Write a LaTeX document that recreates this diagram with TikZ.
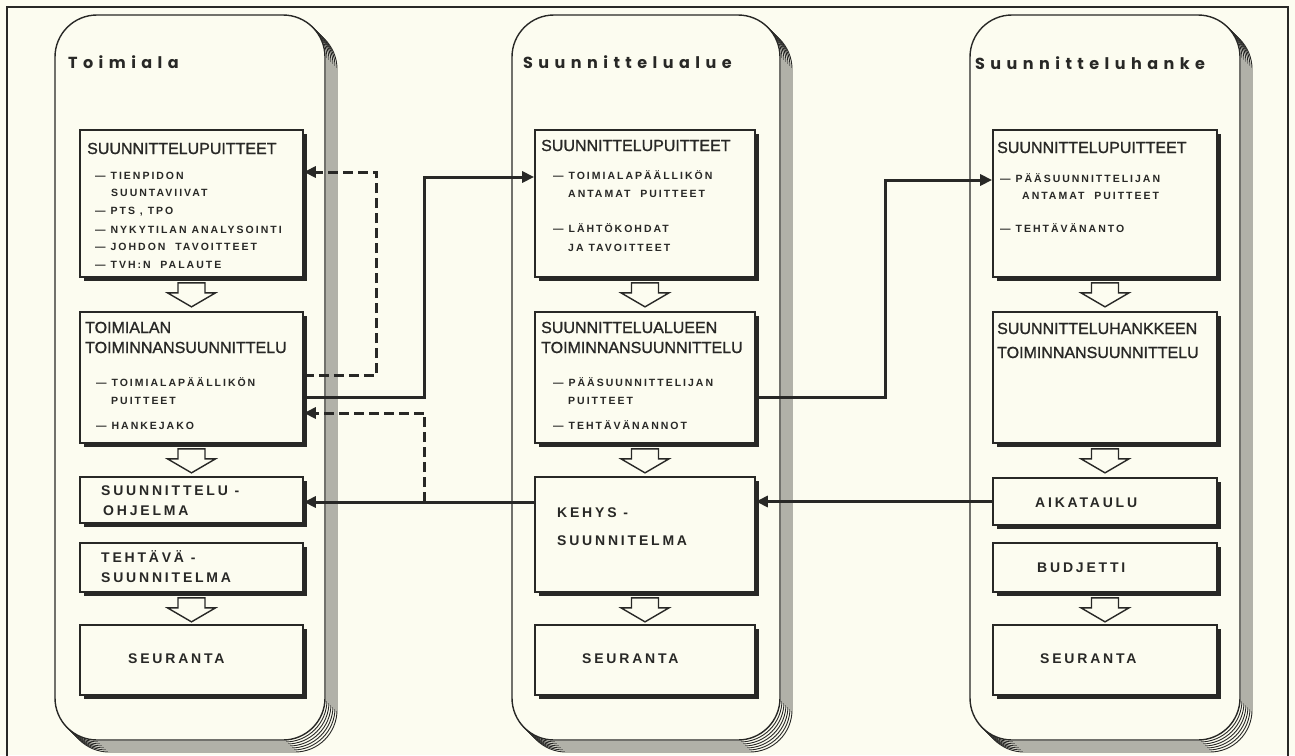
\documentclass[tikz,border=0pt]{standalone}
\usepackage{fontspec}
\setmainfont{Liberation Sans}
\newfontfamily\titlefont[LetterSpace=34]{Poppins Bold}
\newfontfamily\headfont[FakeBold=1.2]{Liberation Sans}
\newfontfamily\itemfont[LetterSpace=19]{Liberation Sans Bold}
\newfontfamily\bigfont[LetterSpace=20]{Liberation Sans Bold}
\usetikzlibrary{arrows.meta,shadows,fit}
\definecolor{bg}{RGB}{252,252,240}
\definecolor{ink}{RGB}{40,40,38}
\newcommand\harr[1]{\draw[harrow] ([shift={(-13.5,5)}]#1.south) -- ++(27,0) -- ++(0,10) -- ++(10.5,0) -- ++(-24,14) -- ++(-24,-14) -- ++(10.5,0) -- cycle;}
\begin{document}
\begin{tikzpicture}[x=1pt,y=-1pt,
 panel/.style={draw=ink, line width=1.4pt, fill=bg, rounded corners=42pt, inner sep=0pt,
   copy shadow={shadow xshift=12pt, shadow yshift=-12pt, draw=ink, fill=bg, line width=0.9pt},
   copy shadow={shadow xshift=10pt, shadow yshift=-10pt, draw=ink, fill=bg, line width=0.9pt},
   copy shadow={shadow xshift=8pt, shadow yshift=-8pt, draw=ink, fill=bg, line width=0.9pt},
   copy shadow={shadow xshift=6pt, shadow yshift=-6pt, draw=ink, fill=bg, line width=0.9pt},
   copy shadow={shadow xshift=4pt, shadow yshift=-4pt, draw=ink, fill=bg, line width=0.9pt},
   copy shadow={shadow xshift=2pt, shadow yshift=-2pt, draw=ink, fill=bg, line width=0.9pt}},
 box/.style={draw=ink, line width=1.7pt, fill=bg, inner sep=0pt,
   general shadow={shadow xshift=3.5pt, shadow yshift=-4pt, fill=ink}},
 head/.style={anchor=base west, inner sep=0pt, font=\headfont\fontsize{16}{18}\selectfont, text=ink},
 item/.style={anchor=base west, inner sep=0pt, font=\itemfont\fontsize{10.5}{12}\selectfont, text=ink},
 big/.style={anchor=base west, inner sep=0pt, font=\bigfont\fontsize{14}{16}\selectfont, text=ink},
 ptitle/.style={anchor=base west, inner sep=0pt, font=\titlefont\fontsize{16}{18}\selectfont, text=ink},
 conn/.style={draw=ink, line width=3pt, -{Triangle[length=12pt,width=11pt]}},
 dconn/.style={conn, dash pattern=on 10pt off 5pt},
 harrow/.style={draw=ink, line width=1.4pt, fill=bg, line join=miter}
]
\useasboundingbox[fill=bg] (0,0) rectangle (1295,755);
\draw[ink, line width=1.2pt] (7,762) -- (7,7) -- (1288,7) -- (1288,762);
% panels
\node[panel, fit={(55,15)(325,740)}] (p1) {};
\node[panel, fit={(512,15)(780,740)}] (p2) {};
\node[panel, fit={(970,15)(1240,740)}] (p3) {};
\node[ptitle] (pt1) at (68,68) {Toimiala};
\node[ptitle] (pt2) at (523,68) {Suunnittelualue};
\node[ptitle] (pt3) at (975,69) {Suunnitteluhanke};
% column 1 boxes
\node[box, fit={(80,130)(303,277)}] (a1) {};
\node[box, fit={(80,312)(303,443)}] (b1) {};
\node[box, fit={(80,477)(303,523)}] (c1) {};
\node[box, fit={(80,543)(303,592)}] (d1) {};
\node[box, fit={(80,625)(303,695)}] (e1) {};
% column 2 boxes
\node[box, fit={(535,130)(755,277)}] (a2) {};
\node[box, fit={(535,312)(755,443)}] (b2) {};
\node[box, fit={(535,477)(755,592)}] (c2) {};
\node[box, fit={(535,625)(755,695)}] (e2) {};
% column 3 boxes
\node[box, fit={(993,130)(1217,277)}] (a3) {};
\node[box, fit={(993,312)(1217,443)}] (b3) {};
\node[box, fit={(993,478)(1217,525)}] (c3) {};
\node[box, fit={(993,543)(1217,592)}] (d3) {};
\node[box, fit={(993,625)(1217,695)}] (e3) {};
% column 1 texts
\node[head] (a1h) at (87,154) {SUUNNITTELUPUITTEET};
\node[item] (a1i1) at (95,179) {— TIENPIDON};
\node[item] (a1i2) at (111,196) {SUUNTAVIIVAT};
\node[item] (a1i3) at (95,214) {— PTS , TPO};
\node[item] (a1i4) at (95,233) {— NYKYTILAN ANALYSOINTI};
\node[item] (a1i5) at (95,250) {— JOHDON\ \ TAVOITTEET};
\node[item] (a1i6) at (95,268) {— TVH:N\ \ PALAUTE};
\node[head] (b1h1) at (85,333) {TOIMIALAN};
\node[head] (b1h2) at (85,353) {TOIMINNANSUUNNITTELU};
\node[item] (b1i1) at (96,386) {— TOIMIALAPÄÄLLIKÖN};
\node[item] (b1i2) at (111,404) {PUITTEET};
\node[item] (b1i3) at (96,429) {— HANKEJAKO};
\node[big] (c1t1) at (101,495) {SUUNNITTELU -};
\node[big] (c1t2) at (103,515) {OHJELMA};
\node[big] (d1t1) at (101,562) {TEHTÄVÄ -};
\node[big] (d1t2) at (101,582) {SUUNNITELMA};
\node[big] (e1t) at (128,663) {SEURANTA};
% column 2 texts
\node[head] (a2h) at (541,151) {SUUNNITTELUPUITTEET};
\node[item] (a2i1) at (553,179) {— TOIMIALAPÄÄLLIKÖN};
\node[item] (a2i2) at (568,197) {ANTAMAT\ \ PUITTEET};
\node[item] (a2i3) at (553,232) {— LÄHTÖKOHDAT};
\node[item] (a2i4) at (568,251) {JA\ TAVOITTEET};
\node[head] (b2h1) at (541,333) {SUUNNITTELUALUEEN};
\node[head] (b2h2) at (541,353) {TOIMINNANSUUNNITTELU};
\node[item] (b2i1) at (553,386) {— PÄÄSUUNNITTELIJAN};
\node[item] (b2i2) at (568,404) {PUITTEET};
\node[item] (b2i3) at (553,429) {— TEHTÄVÄNANNOT};
\node[big] (c2t1) at (557,517) {KEHYS -};
\node[big] (c2t2) at (557,545) {SUUNNITELMA};
\node[big] (e2t) at (582,663) {SEURANTA};
% column 3 texts
\node[head] (a3h) at (997,153) {SUUNNITTELUPUITTEET};
\node[item] (a3i1) at (1000,182) {— PÄÄSUUNNITTELIJAN};
\node[item] (a3i2) at (1022,199) {ANTAMAT\ \ PUITTEET};
\node[item] (a3i3) at (1000,232) {— TEHTÄVÄNANTO};
\node[head] (b3h1) at (997,334) {SUUNNITTELUHANKKEEN};
\node[head] (b3h2) at (997,358) {TOIMINNANSUUNNITTELU};
\node[big] (c3t) at (1035,507) {AIKATAULU};
\node[big] (d3t) at (1037,572) {BUDJETTI};
\node[big] (e3t) at (1040,663) {SEURANTA};
% hollow arrows
\harr{a1} \harr{b1} \harr{d1}
\harr{a2} \harr{b2} \harr{c2}
\harr{a3} \harr{b3} \harr{d3}
% connectors
\draw[dconn] ([yshift=2.5pt]b1.east) -- ++(73,0) |- ([yshift=31.5pt]a1.east);
\draw[conn] ([yshift=-19.5pt]b1.east) -- ++(121,0) coordinate (bend) |- ([yshift=26.5pt]a2.west);
\draw[conn] ([yshift=32.5pt]c2.west) coordinate (kl) -- (kl -| c1.east);
\draw[dconn] (kl -| bend) |- ([yshift=-35.5pt]b1.east);
\draw[conn] ([yshift=-19.5pt]b2.east) -- ++(130,0) |- ([yshift=23.5pt]a3.west);
\draw[conn] (c3.west) -- (c3.west -| c2.east);
\end{tikzpicture}
\end{document}
